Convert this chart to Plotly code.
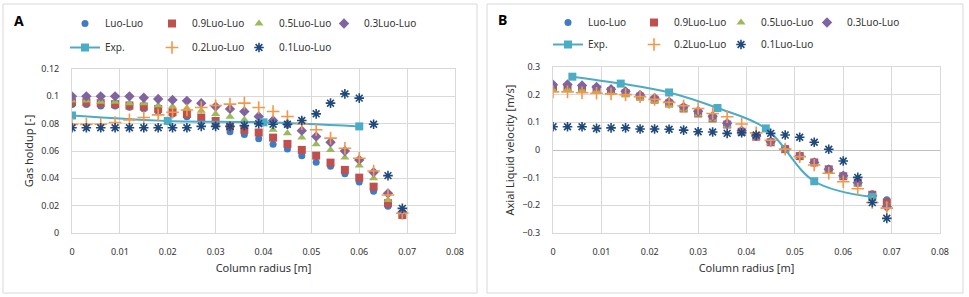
import plotly.graph_objects as go

# ---------------- data ----------------
radius = [0.000, 0.003, 0.006, 0.009, 0.012, 0.015, 0.018, 0.021, 0.024, 0.027, 0.030, 0.033,
          0.036, 0.039, 0.042, 0.045, 0.048, 0.051, 0.054, 0.057, 0.060, 0.063, 0.066, 0.069]

# Panel A: gas holdup [-]
gh_luo = [0.094, 0.094, 0.093, 0.093, 0.092, 0.091, 0.089, 0.087, 0.085, 0.082, 0.079, 0.074,
          0.072, 0.069, 0.065, 0.0615, 0.0566, 0.0518, 0.0489, 0.0434, 0.0374, 0.0305, 0.0195, 0.0127]
gh_09 = [0.0957, 0.0957, 0.095, 0.0943, 0.0933, 0.0925, 0.0908, 0.0884, 0.087, 0.0845, 0.082, 0.078,
         0.0755, 0.0735, 0.0698, 0.0652, 0.0608, 0.0566, 0.0515, 0.0462, 0.0405, 0.0339, 0.0218, 0.0132]
gh_05 = [0.097, 0.097, 0.096, 0.096, 0.095, 0.095, 0.0933, 0.0925, 0.0913, 0.0894, 0.087, 0.085,
         0.0828, 0.0803, 0.0755, 0.073, 0.0698, 0.065, 0.0608, 0.0552, 0.0493, 0.040, 0.0242, 0.0144]
gh_03 = [0.100, 0.100, 0.100, 0.100, 0.100, 0.099, 0.098, 0.0974, 0.0967, 0.095, 0.0925, 0.0908,
         0.0889, 0.0852, 0.0823, 0.0796, 0.0749, 0.0706, 0.0664, 0.060, 0.0535, 0.0445, 0.029, 0.0152]
gh_02 = [0.0795, 0.0795, 0.0796, 0.0808, 0.0828, 0.0845, 0.0864, 0.0884, 0.090, 0.0918, 0.0933, 0.0943,
         0.095, 0.0918, 0.0889, 0.0852, 0.080, 0.0755, 0.0694, 0.062, 0.0547, 0.0454, 0.0278, 0.0144]
gh_01 = [0.077, 0.077, 0.077, 0.077, 0.077, 0.077, 0.077, 0.077, 0.077, 0.078, 0.078, 0.078,
         0.0786, 0.080, 0.0796, 0.0796, 0.0823, 0.0872, 0.095, 0.1018, 0.0987, 0.0796, 0.042, 0.018]
gh_exp_r = [0.0, 0.02, 0.04, 0.06]
gh_exp = [0.086, 0.082, 0.081, 0.078]

# Panel B: axial liquid velocity [m/s]
vl_luo = [0.228, 0.229, 0.226, 0.222, 0.215, 0.207, 0.195, 0.184, 0.171, 0.152, 0.135, 0.117,
          0.095, 0.068, 0.050, 0.030, 0.005, -0.020, -0.043, -0.068, -0.092, -0.115, -0.158, -0.180]
vl_09 = [0.226, 0.227, 0.224, 0.220, 0.213, 0.205, 0.193, 0.182, 0.168, 0.150, 0.132, 0.114,
         0.092, 0.066, 0.048, 0.028, 0.003, -0.022, -0.045, -0.070, -0.095, -0.118, -0.162, -0.190]
vl_05 = [0.218, 0.220, 0.217, 0.213, 0.207, 0.199, 0.188, 0.177, 0.163, 0.146, 0.128, 0.110,
         0.088, 0.063, 0.045, 0.025, 0.001, -0.025, -0.047, -0.073, -0.098, -0.122, -0.168, -0.198]
vl_03 = [0.236, 0.237, 0.233, 0.228, 0.220, 0.212, 0.199, 0.188, 0.175, 0.156, 0.140, 0.122,
         0.097, 0.070, 0.050, 0.030, 0.004, -0.022, -0.045, -0.070, -0.093, -0.118, -0.165, -0.205]
vl_02 = [0.210, 0.210, 0.207, 0.205, 0.203, 0.200, 0.193, 0.183, 0.172, 0.160, 0.150, 0.132,
         0.120, 0.094, 0.062, 0.035, 0.003, -0.024, -0.054, -0.084, -0.115, -0.140, -0.190, -0.210]
vl_01 = [0.084, 0.084, 0.084, 0.078, 0.080, 0.080, 0.076, 0.076, 0.075, 0.072, 0.066, 0.065,
         0.060, 0.0625, 0.054, 0.060, 0.054, 0.046, 0.028, 0.0025, -0.040, -0.099, -0.190, -0.247]
vl_exp_r = [0.004, 0.014, 0.024, 0.034, 0.044, 0.054, 0.066]
vl_exp = [0.265, 0.240, 0.208, 0.152, 0.078, -0.113, -0.170]

# ---------------- styling ----------------
W, H = 969, 297
FONT = "Noto Sans"
TXT = "#333333"
GRID = "#d9d9d9"
AXL = "#bfbfbf"

def px_x(p):
    return p / W

def px_y(p):
    return 1 - p / H

styles = {
    "Luo-Luo": dict(symbol="circle", color="#3f7cc4", size=7),
    "0.9Luo-Luo": dict(symbol="square", color="#c0504d", size=8),
    "0.5Luo-Luo": dict(symbol="triangle-up", color="#9bbb59", size=8),
    "0.3Luo-Luo": dict(symbol="diamond", color="#8064a2", size=8),
    "0.2Luo-Luo": dict(symbol="cross-thin-open", color="#f79646", size=9),
    "0.1Luo-Luo": dict(symbol="asterisk-open", color="#1f497d", size=8),
}
EXP_COLOR = "#4bacc6"

# legend slot for each series: (column, row)
slot = {"Luo-Luo": (0, 0), "0.9Luo-Luo": (1, 0), "0.5Luo-Luo": (2, 0), "0.3Luo-Luo": (3, 0),
        "Exp.": (0, 1), "0.2Luo-Luo": (1, 1), "0.1Luo-Luo": (2, 1)}

fig = go.Figure()
legends = {}
leg_counter = [0]

leg_common = dict(orientation="h", xanchor="left", yanchor="top", visible=True,
                  font=dict(family=FONT, size=10, color=TXT),
                  bgcolor="rgba(0,0,0,0)", borderwidth=0,
                  itemclick=False, itemdoubleclick=False)

def new_legend(mx, rowc):
    # mx: symbol centre (px), rowc: row centre (px)
    leg_counter[0] += 1
    key = "legend" if leg_counter[0] == 1 else f"legend{leg_counter[0]}"
    legends[key] = dict(leg_common, x=px_x(mx - 20), y=px_y(rowc - 14))
    return key

def add_panel(xa, ya, sims, exp_r, exp_v, col_x, row_y):
    for n in ["Luo-Luo", "0.9Luo-Luo", "0.5Luo-Luo", "0.3Luo-Luo", "Exp.", "0.2Luo-Luo", "0.1Luo-Luo"]:
        c, r = slot[n]
        leg = new_legend(col_x[c], row_y[r])
        if n == "Exp.":
            fig.add_trace(go.Scatter(
                x=exp_r, y=exp_v, mode="lines+markers", name=n, legend=leg, showlegend=True,
                xaxis=xa, yaxis=ya,
                line=dict(color=EXP_COLOR, width=2, shape="spline", smoothing=1),
                marker=dict(symbol="square", color=EXP_COLOR, size=8)))
            continue
        s = styles[n]
        open_sym = s["symbol"].endswith("open")
        fig.add_trace(go.Scatter(
            x=radius, y=sims[n], mode="markers", name=n, legend=leg, showlegend=True,
            xaxis=xa, yaxis=ya,
            marker=dict(symbol=s["symbol"], color=s["color"], size=s["size"],
                        line=dict(width=1.6 if open_sym else 0, color=s["color"]))))

add_panel("x", "y",
          {"Luo-Luo": gh_luo, "0.9Luo-Luo": gh_09, "0.5Luo-Luo": gh_05, "0.3Luo-Luo": gh_03,
           "0.2Luo-Luo": gh_02, "0.1Luo-Luo": gh_01},
          gh_exp_r, gh_exp, [85, 172, 259, 344], [23, 47])
add_panel("x2", "y2",
          {"Luo-Luo": vl_luo, "0.9Luo-Luo": vl_09, "0.5Luo-Luo": vl_05, "0.3Luo-Luo": vl_03,
           "0.2Luo-Luo": vl_02, "0.1Luo-Luo": vl_01},
          vl_exp_r, vl_exp, [568, 654, 741, 827], [22, 44])

tickfont = dict(family=FONT, size=9, color=TXT)
titlefont = dict(family=FONT, size=11, color=TXT)

def xaxis_cfg(dom, anchor):
    return dict(domain=dom, anchor=anchor, range=[0, 0.08], dtick=0.01, tick0=0,
                showgrid=True, gridcolor=GRID, gridwidth=1,
                zeroline=True, zerolinecolor=AXL, zerolinewidth=1,
                showline=True, mirror=True, linecolor=GRID, linewidth=1,
                ticks="", ticklabelstandoff=10, tickfont=tickfont,
                title=dict(text="Column radius [m]", font=titlefont, standoff=7),
                automargin=False, fixedrange=True)

def yaxis_cfg(dom, anchor, rng, dt, title):
    return dict(domain=dom, anchor=anchor, range=rng, dtick=dt, tick0=0,
                showgrid=True, gridcolor=GRID, gridwidth=1,
                zeroline=True, zerolinecolor=AXL, zerolinewidth=1,
                showline=True, mirror=True, linecolor=GRID, linewidth=1,
                ticks="", ticklabelstandoff=10, tickfont=tickfont,
                title=dict(text=title, font=titlefont, standoff=5),
                automargin=False, fixedrange=True)

fig.update_layout(
    width=W, height=H,
    showlegend=True,
    margin=dict(l=0, r=0, t=0, b=0, pad=0, autoexpand=False),
    paper_bgcolor="white", plot_bgcolor="white",
    font=dict(family=FONT, color=TXT),
    xaxis=xaxis_cfg([px_x(72), px_x(455)], "y"),
    yaxis=yaxis_cfg([px_y(233), px_y(69)], "x", [0, 0.12], 0.02, "Gas holdup [-]"),
    xaxis2=xaxis_cfg([px_x(553), px_x(940)], "y2"),
    yaxis2=yaxis_cfg([px_y(233), px_y(67)], "x2", [-0.3, 0.3], 0.1, "Axial Liquid velocity [m/s]"),
    shapes=[
        dict(type="rect", xref="paper", yref="paper", x0=px_x(3), x1=px_x(477),
             y0=px_y(293), y1=px_y(4), line=dict(color=GRID, width=1), layer="below"),
        dict(type="rect", xref="paper", yref="paper", x0=px_x(487), x1=px_x(963),
             y0=px_y(293), y1=px_y(4), line=dict(color=GRID, width=1), layer="below"),
    ],
    annotations=[
        dict(text="<b>A</b>", xref="paper", yref="paper", x=px_x(12), y=px_y(20),
             xanchor="left", yanchor="middle", showarrow=False,
             font=dict(family=FONT, size=14, color="#000000")),
        dict(text="<b>B</b>", xref="paper", yref="paper", x=px_x(496), y=px_y(19),
             xanchor="left", yanchor="middle", showarrow=False,
             font=dict(family=FONT, size=14, color="#000000")),
    ],
)
fig.update_layout(**legends)

fig.write_html("out.html", config={"displayModeBar": False},
               post_script="document.body.style.margin='0px';")
